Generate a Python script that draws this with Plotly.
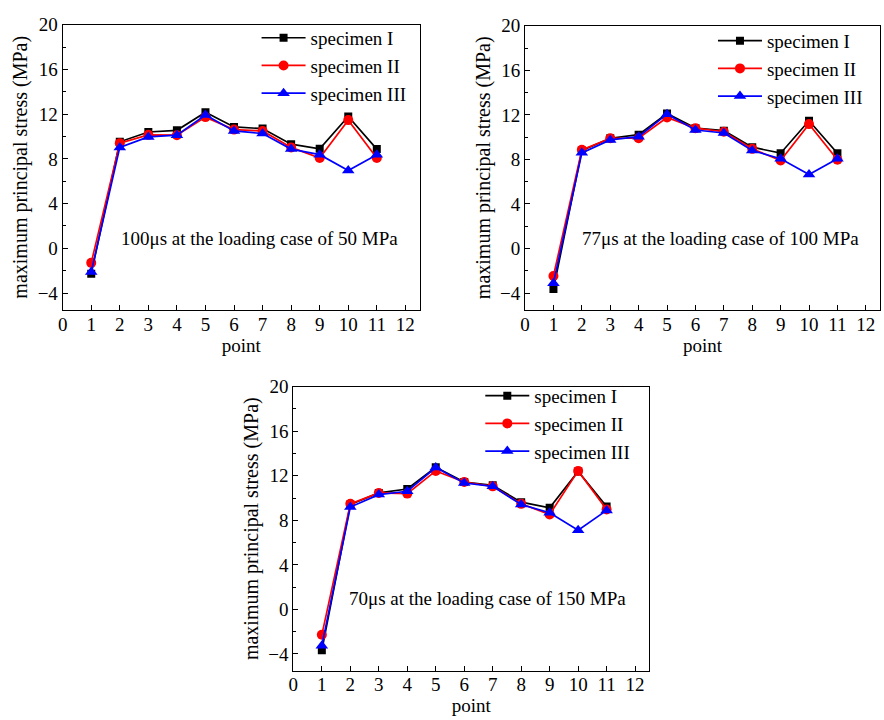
import plotly.graph_objects as go

points = list(range(1, 12))
series_names = ["specimen I", "specimen II", "specimen III"]

# Panel 1: 100us at 50 MPa
p1_spec1 = [-2.27, 9.53, 10.41, 10.56, 12.18, 10.86, 10.71, 9.32, 8.91, 11.80, 8.88]
p1_spec2 = [-1.30, 9.41, 10.15, 10.12, 11.74, 10.62, 10.50, 9.03, 8.08, 11.47, 8.08]
p1_spec3 = [-2.12, 9.03, 9.97, 10.12, 11.92, 10.50, 10.27, 8.88, 8.38, 6.96, 8.38]
# Panel 2: 77us at 100 MPa
p2_spec1 = [-3.64, 8.80, 9.90, 10.22, 12.12, 10.81, 10.58, 9.10, 8.56, 11.47, 8.56]
p2_spec2 = [-2.46, 8.86, 9.90, 9.90, 11.76, 10.81, 10.49, 8.95, 7.91, 11.17, 7.97]
p2_spec3 = [-3.11, 8.59, 9.75, 10.04, 12.06, 10.64, 10.37, 8.80, 8.06, 6.64, 8.06]
# Panel 3: 70us at 150 MPa
p3_spec1 = [-3.67, 9.42, 10.46, 10.81, 12.77, 11.44, 11.14, 9.63, 9.13, 12.39, 9.24]
p3_spec2 = [-2.28, 9.48, 10.46, 10.40, 12.44, 11.44, 11.05, 9.48, 8.53, 12.44, 8.98]
p3_spec3 = [-3.26, 9.19, 10.31, 10.61, 12.74, 11.35, 11.05, 9.42, 8.68, 7.11, 8.89]

panel_labels = [
    "100\u03bcs at the loading case of 50 MPa",
    "77\u03bcs at the loading case of 100 MPa",
    "70\u03bcs at the loading case of 150 MPa",
]
x_title = "point"
y_title = "maximum principal stress (MPa)"

W, H = 884, 720
FONT = "Liberation Serif, Times New Roman, serif"

# pixel boxes (left, right, top, bottom)
boxes = [(58, 417, 15, 304), (523, 880, 16, 304), (290, 648, 382, 670)]
legend_pos = [(253, 9), (712, 12), (478, 372)]
label_pos = [(256, 232), (720, 232), (485, 597)]

colors = ["#000000", "#ff0000", "#0000ff"]
symbols = ["square", "circle", "triangle-up"]
msizes = [8, 10, 11]

data = [
    [p1_spec1, p1_spec2, p1_spec3],
    [p2_spec1, p2_spec2, p2_spec3],
    [p3_spec1, p3_spec2, p3_spec3],
]

fig = go.Figure()
legend_ids = ["legend", "legend2", "legend3"]
for i, panel in enumerate(data):
    xa = "x" if i == 0 else f"x{i+1}"
    ya = "y" if i == 0 else f"y{i+1}"
    for j, vals in enumerate(panel):
        fig.add_trace(go.Scatter(
            x=points, y=vals, mode="lines+markers", name=series_names[j],
            xaxis=xa, yaxis=ya, legend=legend_ids[i],
            line=dict(color=colors[j], width=1.7),
            marker=dict(symbol=symbols[j], size=msizes[j], color=colors[j]),
        ))

layout = dict(
    width=W, height=H, margin=dict(l=0, r=0, t=0, b=0),
    paper_bgcolor="white", plot_bgcolor="white",
    font=dict(family=FONT, size=19, color="black"),
    showlegend=True,
)
annotations = []
for i, (l, r, t, b) in enumerate(boxes):
    sx = "" if i == 0 else str(i + 1)
    layout[f"xaxis{sx}"] = dict(
        domain=[l / W, r / W], anchor=f"y{sx}", range=[0, 12.5],
        tickmode="linear", tick0=0, dtick=1, ticks="inside", ticklen=5,
        tickwidth=1, tickcolor="black", ticklabelstandoff=-3,
        showline=True, linecolor="black", linewidth=1, mirror=True,
        showgrid=False, zeroline=False,
        title=dict(text=x_title, font=dict(size=19), standoff=4),
        tickfont=dict(size=19),
    )
    layout[f"yaxis{sx}"] = dict(
        domain=[1 - b / H, 1 - t / H], anchor=f"x{sx}", range=[-5.5, 20],
        tickmode="linear", tick0=0, dtick=4, ticks="inside", ticklen=5,
        tickwidth=1, tickcolor="black",
        minor=dict(dtick=2, ticks="inside", ticklen=3, tickcolor="black"),
        showline=True, linecolor="black", linewidth=1, mirror=True,
        showgrid=False, zeroline=False,
        title=dict(text=y_title, font=dict(size=20), standoff=4),
        tickfont=dict(size=19),
    )
    lx, ly = legend_pos[i]
    layout[legend_ids[i]] = dict(
        x=lx / W, y=1 - ly / H, xanchor="left", yanchor="top",
        bgcolor="rgba(0,0,0,0)", font=dict(size=19), tracegroupgap=0,
        itemwidth=44,
    )
    ax, ay = label_pos[i]
    annotations.append(dict(
        x=ax / W, y=1 - ay / H, xref="paper", yref="paper",
        text=panel_labels[i], showarrow=False, font=dict(size=19),
        xanchor="center", yanchor="middle",
    ))
layout["annotations"] = annotations
fig.update_layout(**layout)
fig.write_html("out.html")
